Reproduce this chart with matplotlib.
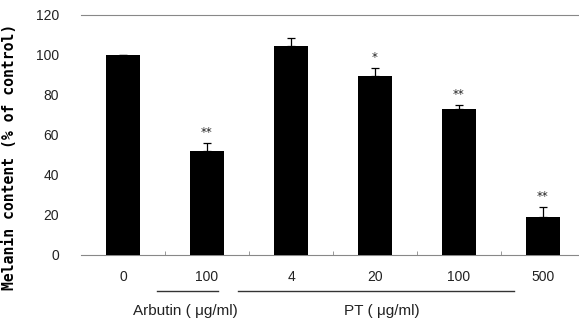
import numpy as np
import matplotlib
matplotlib.use('Agg')
import matplotlib.pyplot as plt
import matplotlib.transforms as mtrans

# Данные
doses = ['0', '100', '4', '20', '100', '500']
melanin = [100, 52, 104.5, 89.7, 72.8, 19.2]
err_up = [0, 4.2, 3.8, 3.6, 2.0, 5.0]
stars = ['', '**', '', '*', '**', '**']
groups = ['Arbutin ( μg/ml)', 'PT ( μg/ml)']
group_span = [(0.41, 1.13), (1.37, 4.66)]
group_label_x = [0.74, 3.08]

plt.rcParams['font.family'] = ['Liberation Sans', 'DejaVu Sans']
txt_color = '#222222'

fig = plt.figure(figsize=(5.79, 3.21), dpi=100)
ax = fig.add_axes([81 / 579, 1 - 255 / 321, 504 / 579, 240 / 321])

x = np.arange(len(doses))
ax.bar(x, melanin, width=0.4, color='black', zorder=3)
ax.errorbar(x, melanin, yerr=[np.zeros(len(err_up)), err_up], fmt='none',
            ecolor='black', elinewidth=0.9, capsize=3, capthick=0.9, zorder=2)

for xi, yi, e, s in zip(x, melanin, err_up, stars):
    if s:
        ax.text(xi, yi + e + 2.0, s, ha='center', va='bottom', fontsize=8.5,
                color=txt_color, family='DejaVu Sans')

ax.set_xlim(-0.5, len(doses) - 0.5)
ax.set_ylim(0, 120)
ax.set_yticks(np.arange(0, 121, 20))
ax.set_xticks(x)
ax.set_xticklabels(doses)
ax.set_xticks(np.arange(0.5, len(doses) - 0.5, 1), minor=True)
ax.tick_params(axis='x', which='major', length=0, pad=11, labelsize=10, colors=txt_color)
ax.tick_params(axis='x', which='minor', direction='in', length=3, color='#888888')
ax.tick_params(axis='y', length=0, pad=16, labelsize=10, colors=txt_color)

for side in ['left', 'right']:
    ax.spines[side].set_visible(False)
ax.spines['bottom'].set_color('#888888')
ax.spines['top'].set_color('#888888')

ax.set_ylabel('Melanin content (% of control)', family='DejaVu Sans Mono',
              fontweight='bold', fontsize=10.6, color='black')
ax.yaxis.set_label_coords(-0.126, 0.41)

# Подписи групп
trans = mtrans.blended_transform_factory(ax.transData, ax.transAxes)
for name, (x0, x1), lx in zip(groups, group_span, group_label_x):
    ax.plot([x0, x1], [-0.15, -0.15], color='#333333', lw=1.0,
            transform=trans, clip_on=False)
    ax.text(lx, -0.232, name, transform=trans, ha='center', va='center',
            fontsize=11, color=txt_color)

fig.savefig('out.png', dpi=100)
